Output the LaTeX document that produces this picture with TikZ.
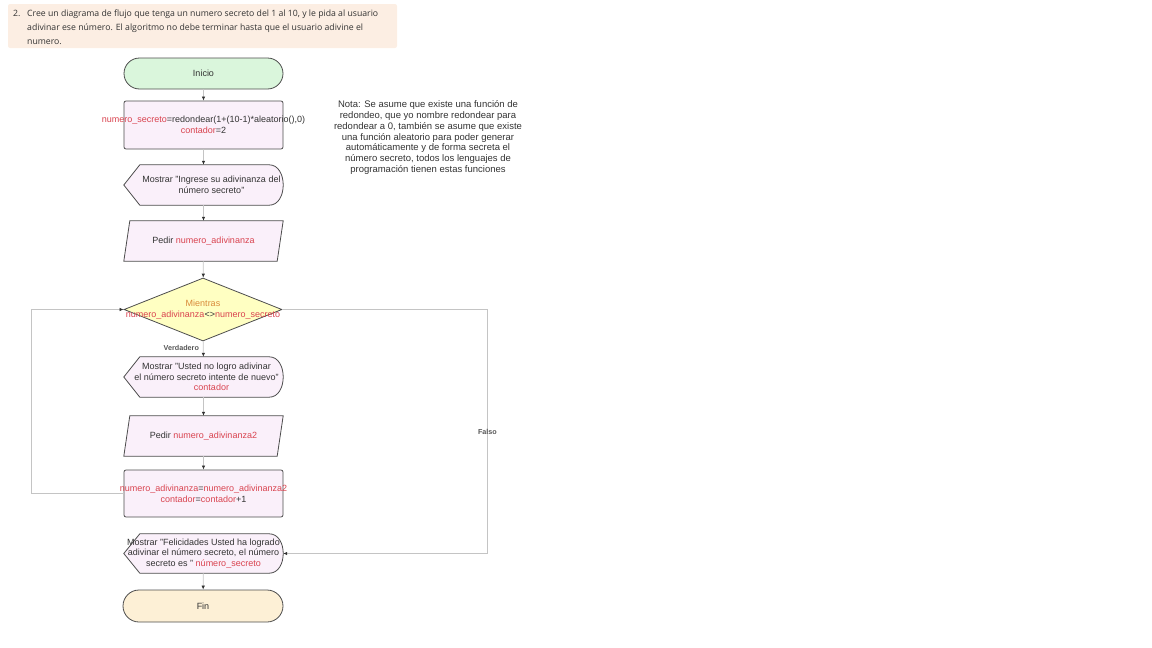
\documentclass[tikz,border=0pt]{standalone}
\usepackage{fontspec}
\setmainfont{Liberation Sans}
\newfontfamily\taskfont{Open Sans}
\usepackage{tikz}
\usetikzlibrary{arrows.meta,shapes.geometric,backgrounds,positioning}

\definecolor{inkgray}{HTML}{333333}
\definecolor{edgegray}{HTML}{4D4D4D}
\definecolor{linegray}{HTML}{C4C4C4}
\definecolor{tipgray}{HTML}{333333}
\definecolor{labelgray}{HTML}{555555}
\definecolor{varred}{HTML}{D9434F}
\definecolor{loopamber}{HTML}{D98A3A}
\definecolor{startgreen}{HTML}{DAF6DC}
\definecolor{endpeach}{HTML}{FDF0D6}
\definecolor{boxlilac}{HTML}{FAF0FA}
\definecolor{decyellow}{HTML}{FFFFC2}
\definecolor{taskbg}{HTML}{FCEEE3}

\newcommand{\vtxt}[1]{\textcolor{varred}{#1}}
\newcommand{\tline}[2][0pt]{\makebox[0pt]{\hspace{#1}#2\hspace{-#1}}}
\newcommand{\displayshape}[1]{%
  \path[outline] ([xshift=16pt]#1.north west) -- (#1.west) -- ([xshift=16pt]#1.south west)
    -- ([xshift=-14pt]#1.south east) .. controls +(18.7pt,0) and +(18.7pt,0) .. ([xshift=-14pt]#1.north east) -- cycle;}
\newcommand{\inputshape}[1]{%
  \path[outline] ([xshift=6pt]#1.north west) -- (#1.north east) -- ([xshift=-6pt]#1.south east) -- (#1.south west) -- cycle;}

\tikzset{
  flowtext/.style={font=\fontsize{9}{10.6}\selectfont, text=inkgray, align=center, inner sep=0pt,
    minimum width=159pt, minimum height=40pt},
  terminal/.style={flowtext, draw=edgegray, line width=0.8pt, rounded corners=15.5pt, minimum height=31pt},
  procbox/.style={flowtext, draw=edgegray, line width=0.8pt, fill=boxlilac, rounded corners=2pt, minimum height=48pt},
  decision/.style={flowtext, diamond, draw=edgegray, line width=0.8pt, fill=decyellow,
    minimum width=158pt, minimum height=63pt, aspect=2.5},
  outline/.style={draw=edgegray, line width=0.8pt, fill=boxlilac},
  flow/.style={draw=linegray, line width=0.7pt, -{Latex[length=4pt,width=3.5pt,color=tipgray]}},
  edgelabel/.style={font=\bfseries\fontsize{7.2}{8}\selectfont, text=labelgray, inner sep=1pt},
}

\begin{document}
\begin{tikzpicture}[x=1pt,y=-1pt]
\useasboundingbox (0,0) rectangle (1152,648);

% enunciado
\fill[taskbg, rounded corners=2pt] (8,4) rectangle (397,48);
\node[anchor=west, align=left, inner sep=0pt, text=inkgray, font=\taskfont\fontsize{8.7}{14}\selectfont] (task) at (13,27)
  {\makebox[14pt][l]{2.}Cree un diagrama de flujo que tenga un numero secreto del 1 al 10, y le pida al usuario\\
   \hspace*{14pt}adivinar ese número. El algoritmo no debe terminar hasta que el usuario adivine el\\
   \hspace*{14pt}numero.};

\path
(203.5,73.5)  node[terminal, fill=startgreen] (ini) {\tline{Inicio}}
(203.5,125)   node[procbox] (a1) {\tline{\vtxt{numero\_secreto}=redondear(1+(10-1)*aleatorio(),0)}\\
                                  \tline{\vtxt{contador}=2}}
(203.5,185)   node[flowtext] (d1) {\tline[8pt]{Mostrar "Ingrese su adivinanza del}\\
                                   \tline[8pt]{número secreto"}}
(203.5,241)   node[flowtext] (p1) {\tline{Pedir \vtxt{numero\_adivinanza}}}
(203,309.5)   node[decision] (w) {\tline{\textcolor{loopamber}{Mientras}}\\
                                  \tline{\vtxt{numero\_adivinanza}<>\vtxt{numero\_secreto}}}
(203.5,377)   node[flowtext] (d2) {\tline[3pt]{Mostrar "Usted no logro adivinar}\\
                                   \tline[3pt]{el número secreto intente de nuevo"}\\
                                   \tline[8pt]{\vtxt{contador}}}
(203.5,436)   node[flowtext] (p2) {\tline{Pedir \vtxt{numero\_adivinanza2}}}
(203.5,493.5) node[procbox, minimum height=47pt] (a2) {\tline{\vtxt{numero\_adivinanza}=\vtxt{numero\_adivinanza2}}\\
                                  \tline{\vtxt{contador}=\vtxt{contador}+1}}
(203.5,553.5) node[flowtext, minimum height=39pt] (d3) {\tline{Mostrar "Felicidades Usted ha logrado}\\
                                   \tline{adivinar el número secreto, el número}\\
                                   \tline{secreto es " \vtxt{número\_secreto}}}
(203,606)     node[terminal, fill=endpeach, minimum width=160pt, minimum height=32pt, rounded corners=16pt] (fin) {\tline{Fin}};

\begin{scope}[on background layer]
\displayshape{d1}
\inputshape{p1}
\displayshape{d2}
\inputshape{p2}
\displayshape{d3}
\end{scope}

\node[font=\fontsize{9.5}{10.8}\selectfont, text=inkgray, align=center, inner sep=0pt] (nota) at (428,137.5)
  {Nota: Se asume que existe una función de\\
   redondeo, que yo nombre redondear para\\
   redondear a 0, también se asume que existe\\
   una función aleatorio para poder generar\\
   automáticamente y de forma secreta el\\
   número secreto, todos los lenguajes de\\
   programación tienen estas funciones};

\draw[flow] (ini)--(a1);
\draw[flow] (a1)--(d1);
\draw[flow] (d1)--(p1);
\draw[flow] (p1)--(w);
\draw[flow] (w)--(d2) node[pos=.44, left=3pt, edgelabel]{Verdadero};
\draw[flow] (d2)--(p2);
\draw[flow] (p2)--(a2);
\draw[flow] (a2.west) -- ++(-92,0) |- (w.west);
\draw[flow] (w.east) -- ++(205,0) |- node[pos=.25, edgelabel]{Falso} (d3.east);
\draw[flow] (d3)--(fin);
\end{tikzpicture}
\end{document}
